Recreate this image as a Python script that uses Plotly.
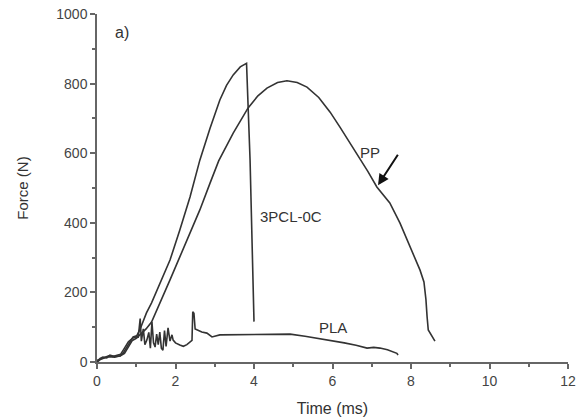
import plotly.graph_objects as go

# 3PCL-0C
t_pcl = [0.00, 0.10, 0.20, 0.30, 0.40, 0.50, 0.60, 0.70, 0.80, 0.90, 1.00, 1.10, 1.26, 1.39,
         1.61, 1.86, 2.11, 2.37, 2.62, 2.88, 3.13, 3.30, 3.47, 3.65, 3.81, 3.90, 4.00]
f_pcl = [5, 10, 15, 18, 16, 20, 22, 40, 58, 68, 72, 95, 141, 170,
         227, 293, 379, 474, 580, 672, 753, 795, 825, 848, 858, 580, 116]

# PP
t_pp = [0.00, 0.10, 0.20, 0.30, 0.45, 0.60, 0.70, 0.80, 0.90, 1.00, 1.10, 1.25, 1.39, 1.61, 1.86,
        2.11, 2.37, 2.62, 2.88, 3.10, 3.47, 3.85, 4.10, 4.33, 4.60, 4.84, 5.10, 5.35, 5.65, 5.94,
        6.19, 6.40, 6.62, 6.90, 7.13, 7.30, 7.46, 7.72, 7.90, 8.05, 8.23, 8.33, 8.38, 8.41, 8.44, 8.61]
f_pp = [0, 8, 12, 15, 14, 18, 25, 45, 62, 68, 78, 95, 115, 170, 236,
        302, 371, 437, 514, 578, 658, 730, 765, 787, 803, 808, 803, 790, 760, 718,
        675, 638, 600, 548, 503, 480, 457, 399, 352, 313, 264, 230, 180, 130, 92, 60]

# PLA
t_pla = [0.00, 0.08, 0.15, 0.25, 0.33, 0.45, 0.59, 0.68, 0.76, 0.85, 0.92, 1.00, 1.05, 1.10, 1.13,
         1.18, 1.22, 1.27, 1.32, 1.36, 1.40, 1.44, 1.48, 1.52, 1.56, 1.60, 1.64, 1.68, 1.72, 1.76,
         1.81, 1.86, 1.91, 1.94, 2.00, 2.11, 2.20, 2.29, 2.37, 2.42, 2.44, 2.47, 2.50, 2.58, 2.67,
         2.80, 2.93, 3.13, 3.39, 3.70, 3.98, 4.30, 4.58, 4.92, 5.30, 5.76, 6.00, 6.30, 6.60, 6.88,
         7.05, 7.21, 7.40, 7.55, 7.64, 7.67]
f_pla = [0, 10, 14, 12, 20, 16, 17, 28, 43, 60, 72, 75, 70, 125, 60,
         95, 50, 63, 85, 40, 115, 55, 43, 80, 50, 86, 40, 34, 90, 45,
         98, 60, 78, 63, 55, 49, 45, 50, 57, 62, 144, 140, 95, 90, 86,
         83, 72, 78, 78, 80, 80, 79, 78, 80, 74, 66, 62, 55, 48, 40,
         42, 40, 35, 30, 25, 20]

x_ticks = [0, 2, 4, 6, 8, 10, 12]
y_ticks = [0, 200, 400, 600, 800, 1000]

line_color = "#333333"
axis_color = "#666666"
font_family = "Liberation Sans, Arial, sans-serif"

fig = go.Figure()
for t, f, name in [(t_pcl, f_pcl, "3PCL-0C"), (t_pp, f_pp, "PP"), (t_pla, f_pla, "PLA")]:
    fig.add_trace(go.Scatter(x=t, y=f, mode="lines", name=name,
                             line=dict(color=line_color, width=1.6), showlegend=False))

axis_common = dict(
    showgrid=False, zeroline=False, showline=True, linecolor=axis_color, linewidth=1.5,
    ticks="outside", ticklen=5, tickwidth=1.5, tickcolor=axis_color, automargin=False,
    ticklabeloverflow="allow",
    tickfont=dict(family=font_family, size=14, color="#444444"),
)

fig.update_xaxes(range=[0, 12], tickvals=x_ticks, ticktext=[str(v) for v in x_ticks],
                 minor=dict(dtick=1, tick0=0, ticks="outside", ticklen=3, tickwidth=1.5, tickcolor=axis_color),
                 title=dict(text="Time (ms)", font=dict(family=font_family, size=16, color="#333333"), standoff=15),
                 **axis_common)
fig.update_yaxes(range=[0, 1000], tickvals=y_ticks, ticktext=[str(v) for v in y_ticks],
                 minor=dict(dtick=100, tick0=0, ticks="outside", ticklen=3, tickwidth=1.5, tickcolor=axis_color),
                 title=dict(text="Force (N)", font=dict(family=font_family, size=15, color="#333333"), standoff=24),
                 **axis_common)

ann_font = dict(family=font_family, size=15, color="#333333")
fig.add_annotation(x=4.93, y=417, text="3PCL-0C", showarrow=False, font=ann_font)
fig.add_annotation(x=6.96, y=603, text="PP", showarrow=False, font=ann_font)
fig.add_annotation(x=6.01, y=100, text="PLA", showarrow=False, font=ann_font)
fig.add_annotation(x=7.16, y=508, ax=7.69, ay=600, xref="x", yref="y", axref="x", ayref="y",
                   text="", showarrow=True, arrowhead=2, arrowsize=1.1, arrowwidth=2, arrowcolor="#111111")
fig.add_annotation(x=0.034, y=0.977, xref="paper", yref="paper", text="a)", showarrow=False,
                   xanchor="left", font=dict(family=font_family, size=16, color="#333333"))

fig.update_layout(width=582, height=419, margin=dict(l=97, r=14, t=14, b=57),
                  plot_bgcolor="white", paper_bgcolor="white")

# remove the page's default body margin so the figure sits at the window's top-left corner
fig.write_html("out.html", config={"displayModeBar": False},
               post_script="document.body.style.margin='0';document.body.style.overflow='hidden';")
